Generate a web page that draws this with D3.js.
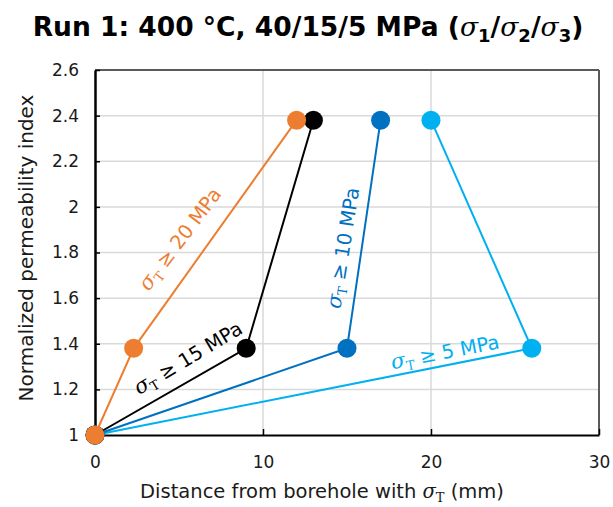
<!DOCTYPE html>
<html>
<head>
<meta charset="utf-8">
<script src="https://cdn.jsdelivr.net/npm/d3@7/dist/d3.min.js"></script>
<style>
  html, body { margin: 0; padding: 0; background: #fff; }
  svg { display: block; }
</style>
</head>
<body>
<svg id="chart" width="613" height="507"></svg>
<script>
// ---- data ----
const seriesNames = ["σT ≥ 20 MPa", "σT ≥ 15 MPa", "σT ≥ 10 MPa", "σT ≥ 5 MPa"];
const thresholds = [20, 15, 10, 5];
const permIndex = [1, 1.38, 2.38];
const dist20 = [0, 2.3, 12];
const dist15 = [0, 9, 13];
const dist10 = [0, 15, 17];
const dist5 = [0, 26, 20];
const xTicks = [0, 10, 20, 30];
const yTicks = [1, 1.2, 1.4, 1.6, 1.8, 2, 2.2, 2.4, 2.6];

const colors = ["#ED7D31", "#000000", "#0070C0", "#00B0F0"];
const distances = [dist20, dist15, dist10, dist5];

(function () {
const svg = d3.select("#chart");
const pL = 95, pR = 599, pT = 70, pB = 435;
const x = d3.scaleLinear().domain([0, 30]).range([pL, pR]);
const y = d3.scaleLinear().domain([1, 2.6]).range([pB, pT]);

const sans = "'DejaVu Sans', Verdana, sans-serif";
const serif = "'DejaVu Serif', 'Liberation Serif', serif";

// title
const title = svg.append("text")
  .attr("x", 308).attr("y", 36)
  .attr("text-anchor", "middle")
  .attr("font-family", sans).attr("font-weight", "bold").attr("font-size", 26.5)
  .attr("fill", "#000");
title.append("tspan").text("Run 1: 400 °C, 40/15/5 MPa (");
[1, 2, 3].forEach((n, i) => {
  title.append("tspan").attr("font-family", serif).attr("font-style", "italic").attr("font-weight", "normal").text("σ");
  title.append("tspan").attr("font-size", 18).attr("dy", 6).text(n);
  title.append("tspan").attr("dy", -6).text(i < 2 ? "/" : ")");
});

// gridlines
svg.append("g").selectAll("line").data(yTicks.filter(d => d > 1 && d < 2.6)).join("line")
  .attr("x1", pL).attr("x2", pR).attr("y1", d => y(d)).attr("y2", d => y(d))
  .attr("stroke", "#d9d9d9").attr("stroke-width", 1.5);
svg.append("g").selectAll("line").data(xTicks.filter(d => d > 0 && d < 30)).join("line")
  .attr("y1", pT).attr("y2", pB).attr("x1", d => x(d)).attr("x2", d => x(d))
  .attr("stroke", "#d9d9d9").attr("stroke-width", 1.5);

// frame: top and right
svg.append("line").attr("x1", pL).attr("x2", pR).attr("y1", pT).attr("y2", pT)
  .attr("stroke", "#595959").attr("stroke-width", 2);
svg.append("line").attr("x1", pR).attr("x2", pR).attr("y1", pT).attr("y2", pB)
  .attr("stroke", "#595959").attr("stroke-width", 2);

// axes
const xAxis = d3.axisBottom(x).tickValues(xTicks).tickSizeInner(-6).tickSizeOuter(0).tickPadding(21);
const gx = svg.append("g").attr("transform", `translate(0,${pB})`).call(xAxis);
gx.select(".domain").attr("stroke", "#000").attr("stroke-width", 2);
gx.selectAll(".tick line").attr("stroke", "#000").attr("stroke-width", 1.5);
gx.selectAll(".tick text").attr("font-family", sans).attr("font-size", 17).attr("fill", "#1a1a1a");

const yAxis = d3.axisLeft(y).tickValues(yTicks).tickFormat(d3.format("~g")).tickSizeInner(-5).tickSizeOuter(0).tickPadding(16);
const gy = svg.append("g").attr("transform", `translate(${pL},0)`).call(yAxis);
gy.select(".domain").attr("stroke", "#000").attr("stroke-width", 2.5);
gy.selectAll(".tick line").attr("stroke", "#000").attr("stroke-width", 1.5);
gy.selectAll(".tick text").attr("font-family", sans).attr("font-size", 17).attr("fill", "#1a1a1a");

// axis titles
const xl = svg.append("text").attr("x", 322).attr("y", 498).attr("text-anchor", "middle")
  .attr("font-family", sans).attr("font-size", 19.5).attr("fill", "#1a1a1a");
xl.append("tspan").text("Distance from borehole with ");
xl.append("tspan").attr("font-family", serif).attr("font-style", "italic").text("σ");
xl.append("tspan").attr("font-family", serif).attr("font-size", 13).attr("dy", 4).text("T");
xl.append("tspan").attr("dy", -4).text(" (mm)");

svg.append("text").attr("transform", "translate(33,248) rotate(-90)").attr("text-anchor", "middle")
  .attr("font-family", sans).attr("font-size", 20).attr("fill", "#1a1a1a")
  .text("Normalized permeability index");

// series: draw reverse so orange ends on top
const order = [3, 2, 1, 0];
order.forEach(i => {
  const pts = distances[i].map((d, k) => [d, permIndex[k]]);
  svg.append("path").datum(pts)
    .attr("d", d3.line().x(p => x(p[0])).y(p => y(p[1])))
    .attr("fill", "none").attr("stroke", colors[i]).attr("stroke-width", 2);
  svg.append("g").selectAll("circle").data(pts).join("circle")
    .attr("cx", p => x(p[0])).attr("cy", p => y(p[1])).attr("r", 9.5)
    .attr("fill", colors[i]);
});

// series labels
const labelPos = [
  { cx: 180, cy: 239, a: -53 },
  { cx: 188, cy: 358, a: -31 },
  { cx: 343, cy: 248, a: -81 },
  { cx: 445, cy: 352, a: -11 }
];
thresholds.forEach((t, i) => {
  const p = labelPos[i];
  const tx = svg.append("text")
    .attr("transform", `translate(${p.cx},${p.cy}) rotate(${p.a})`)
    .attr("text-anchor", "middle").attr("dy", "0.35em")
    .attr("font-family", sans).attr("font-size", 19.5).attr("fill", colors[i]);
  tx.append("tspan").attr("font-family", serif).attr("font-style", "italic").attr("font-size", 21).text("σ");
  tx.append("tspan").attr("font-family", serif).attr("font-size", 13).attr("dy", 4).text("T");
  tx.append("tspan").attr("dy", -4).text(` ≥ ${t} MPa`);
});
})();
</script>
</body>
</html>
